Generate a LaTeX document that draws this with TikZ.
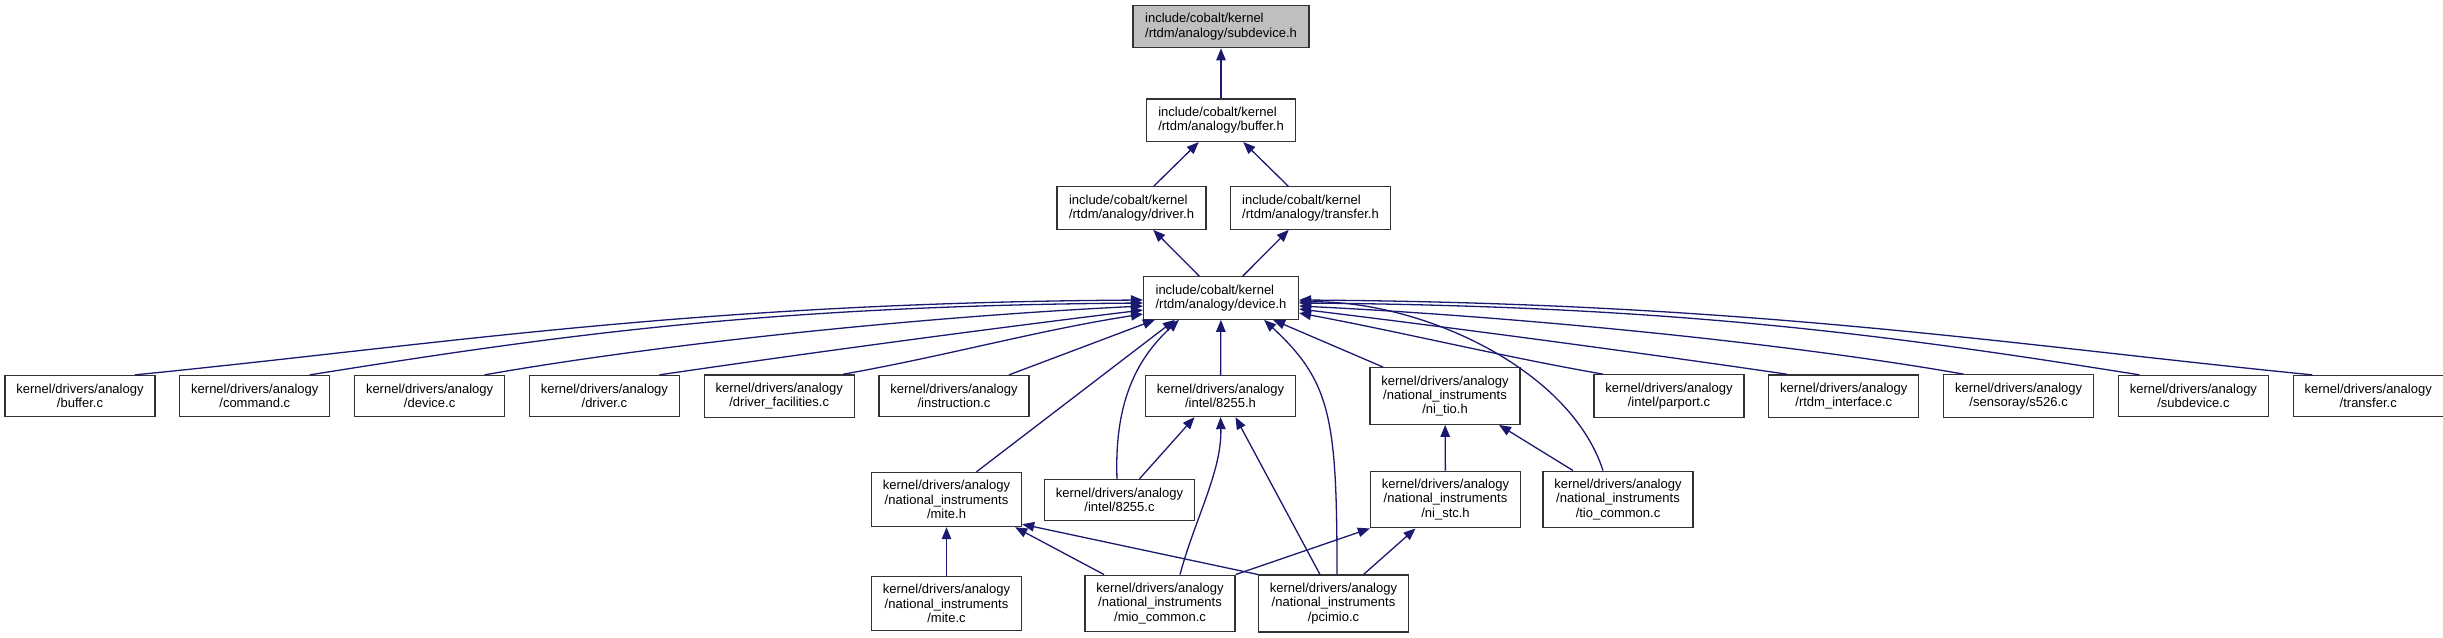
\documentclass[tikz,border=0pt]{standalone}
\usepackage{fontspec}
\setmainfont{Liberation Sans}
\usepackage{xcolor}
\definecolor{depblue}{RGB}{25, 25, 112}
\definecolor{rootgray}{RGB}{191, 191, 191}
\definecolor{boxgray}{RGB}{50, 50, 50}
\newcommand{\lblsize}{\fontsize{13}{14.3}\selectfont}
\usepackage{tikz}
\usetikzlibrary{arrows.meta, positioning}
\tikzset{
  file/.style={
    rectangle, draw=boxgray, line width=1.3pt,
    fill=white, text=black, font=\lblsize,
    align=center, minimum width=150pt, minimum height=41pt,
    inner xsep=10pt, inner ysep=8pt
  },
  hdr/.style={
    file, align=left, minimum width=0pt, inner xsep=12pt
  },
  root/.style={
    hdr, fill=rootgray
  },
  dep/.style={draw=depblue, line width=1.3pt, -{Triangle[length=12pt,width=9.5pt]}}
}

\begin{document}
\begin{tikzpicture}[x=1pt, y=1pt]

  \useasboundingbox (0,0) rectangle (2443,-637);

  % --- En-tetes ---
  \node[root] (sub) at (1221,-26.5) {include/cobalt/kernel\\/rtdm/analogy/subdevice.h};
  \node[hdr, below=50pt of sub] (buf) {include/cobalt/kernel\\/rtdm/analogy/buffer.h};
  \node[hdr] (drv) at (1131.5,-208) {include/cobalt/kernel\\/rtdm/analogy/driver.h};
  \node[hdr] (xfer) at (1310.5,-208) {include/cobalt/kernel\\/rtdm/analogy/transfer.h};
  \node[hdr] (dev) at (1221,-298) {include/cobalt/kernel\\/rtdm/analogy/device.h};

  % --- Fichiers du pilote, ligne 1 ---
  \node[file] (bufc) at (80,-396) {kernel/drivers/analogy\\/buffer.c};
  \node[file, right=23.5pt of bufc] (cmdc) {kernel/drivers/analogy\\/command.c};
  \node[file, right=23.5pt of cmdc] (devc) {kernel/drivers/analogy\\/device.c};
  \node[file, right=23.5pt of devc] (drvc) {kernel/drivers/analogy\\/driver.c};
  \node[file, right=23.5pt of drvc] (facc) {kernel/drivers/analogy\\/driver\_facilities.c};
  \node[file, right=23.5pt of facc] (insc) {kernel/drivers/analogy\\/instruction.c};
  \node[file] (h8255) at (1220.5,-396) {kernel/drivers/analogy\\/intel/8255.h};
  \node[file] (nitio) at (1445,-396) {kernel/drivers/analogy\\/national\_instruments\\/ni\_tio.h};
  \node[file] (parc) at (1669,-396) {kernel/drivers/analogy\\/intel/parport.c};
  \node[file, right=23.5pt of parc] (rtdmc) {kernel/drivers/analogy\\/rtdm\_interface.c};
  \node[file, right=23.5pt of rtdmc] (s526c) {kernel/drivers/analogy\\/sensoray/s526.c};
  \node[file, right=23.5pt of s526c] (subc) {kernel/drivers/analogy\\/subdevice.c};
  \node[file, right=23.5pt of subc] (xferc) {kernel/drivers/analogy\\/transfer.c};

  % --- Lignes 2 et 3 ---
  \node[file] (miteh) at (946.5,-499.5) {kernel/drivers/analogy\\/national\_instruments\\/mite.h};
  \node[file] (c8255) at (1119.5,-500) {kernel/drivers/analogy\\/intel/8255.c};
  \node[file] (nistc) at (1445.5,-499.5) {kernel/drivers/analogy\\/national\_instruments\\/ni\_stc.h};
  \node[file] (tioc) at (1618,-499.5) {kernel/drivers/analogy\\/national\_instruments\\/tio\_common.c};
  \node[file] (mitec) at (946.5,-603.5) {kernel/drivers/analogy\\/national\_instruments\\/mite.c};
  \node[file] (mioc) at (1160,-603.5) {kernel/drivers/analogy\\/national\_instruments\\/mio\_common.c};
  \node[file] (pcimioc) at (1333.5,-603.5) {kernel/drivers/analogy\\/national\_instruments\\/pcimio.c};

  % --- Dependances des en-tetes ---
  \draw[dep] (buf) -- (sub);
  \draw[dep] (drv) -- (buf);
  \draw[dep] (xfer) -- (buf);
  \draw[dep] (dev) -- (drv);
  \draw[dep] (dev) -- (xfer);

  % --- Vers device.h, a gauche ---
  \draw[dep] ([xshift=55pt]bufc.north) .. controls +(303,30) and +(-454,-3) .. ([yshift=-2pt]dev.west);
  \draw[dep] ([xshift=55pt]cmdc.north) .. controls +(251,40) and +(-376,-3) .. ([yshift=-5pt]dev.west);
  \draw[dep] ([xshift=55pt]devc.north) .. controls +(158,28) and +(-244,-12) .. ([yshift=-8pt]dev.west);
  \draw[dep] ([xshift=55pt]drvc.north) .. controls +(143,21) and +(-164,-20) .. ([yshift=-12pt]dev.west);
  \draw[dep] ([xshift=64pt]facc.north) .. controls +(102,18) and +(-104,-16) .. ([yshift=-16pt]dev.west);
  \draw[dep] ([xshift=55pt]insc.north) -- ([xshift=12pt]dev.south west);

  % --- Vers device.h, a droite ---
  \draw[dep] ([xshift=-66pt]parc.north) .. controls +(-103,18) and +(102,-19) .. ([yshift=-15pt]dev.east);
  \draw[dep] ([xshift=-57pt]rtdmc.north) .. controls +(-143,21) and +(164,-20) .. ([yshift=-11pt]dev.east);
  \draw[dep] ([xshift=-55pt]s526c.north) .. controls +(-158,28) and +(244,-12) .. ([yshift=-8pt]dev.east);
  \draw[dep] ([xshift=-54pt]subc.north) .. controls +(-251,40) and +(377,-3) .. ([yshift=-5pt]dev.east);
  \draw[dep] ([xshift=-56pt]xferc.north) .. controls +(-303,30) and +(454,-3) .. ([yshift=-2pt]dev.east);
  \draw[dep] ([xshift=-15pt]tioc.north) .. controls +(-33,102) and +(122,2) .. ([yshift=-4pt]dev.east);

  % --- Vers device.h, par le bas ---
  \draw[dep] (h8255) -- (dev);
  \draw[dep] ([xshift=-62pt]nitio.north) -- ([xshift=-26pt]dev.south east);
  \draw[dep] ([xshift=30pt]miteh.north) -- ([xshift=32pt]dev.south west);
  \draw[dep] ([xshift=-2.5pt]c8255.north) .. controls +(-3,80) and +(-40,-37) .. ([xshift=36pt]dev.south west);
  \draw[dep] ([xshift=3.5pt]pcimioc.north) .. controls +(0,156) and +(67,-62) .. ([xshift=-35pt]dev.south east);

  % --- Niveaux inferieurs ---
  \draw[dep] ([xshift=20pt]c8255.north) -- ([xshift=-26pt]h8255.south);
  \draw[dep] ([xshift=20pt]mioc.north) .. controls +(15,56) and +(1.5,-54) .. (h8255.south);
  \draw[dep] ([xshift=-13.5pt]pcimioc.north) -- ([xshift=15pt]h8255.south);
  \draw[dep] (nistc) -- (nitio);
  \draw[dep] ([xshift=-45pt]tioc.north) -- ([xshift=54pt]nitio.south);
  \draw[dep] (mitec) -- (miteh);
  \draw[dep] ([xshift=-56pt]mioc.north) -- ([xshift=-7pt]miteh.south east);
  \draw[dep] (pcimioc.north west) -- ([yshift=3pt]miteh.south east);
  \draw[dep] (mioc.north east) -- (nistc.south west);
  \draw[dep] ([xshift=30pt]pcimioc.north) -- ([xshift=-30pt]nistc.south);

\end{tikzpicture}
\end{document}
